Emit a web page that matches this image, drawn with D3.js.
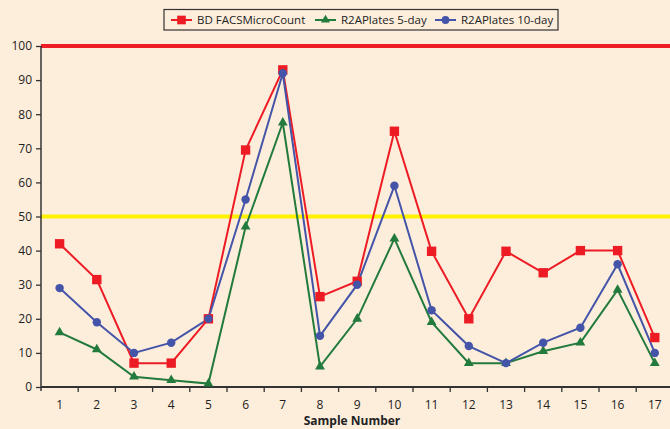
<!DOCTYPE html>
<html><head><meta charset="utf-8">
<script src="https://d3js.org/d3.v7.min.js"></script>
<style>html,body{margin:0;padding:0;background:#fdeedc;}svg{display:block;}</style>
</head><body>
<svg id="c" width="670" height="429"></svg>
<script>
const samples = ["1","2","3","4","5","6","7","8","9","10","11","12","13","14","15","16","17"];
const facs   = [42, 31.5, 7, 7, 20, 69.5, 93, 26.5, 31, 75, 39.8, 20, 39.8, 33.5, 40, 40, 14.5];
const day5   = [16, 11, 3, 2, 1, 47, 77.5, 6, 20, 43.5, 19, 7, 7, 10.5, 13, 28.5, 7];
const day10  = [29, 19, 10, 13, 20, 55, 92, 15, 30, 59, 22.5, 12, 7, 13, 17.4, 36, 10];
const yTicks = [0,10,20,30,40,50,60,70,80,90,100];
const refLines = [{v:100,color:"#ee1c25"},{v:50,color:"#fff200"}];
const seriesNames = ["BD FACSMicroCount","R2APlates 5-day","R2APlates 10-day"];
const colors = ["#ed1c24","#237a3d","#4454a8"];
const shapes = [d3.symbolSquare, d3.symbolTriangle, d3.symbolCircle];
const series = [facs, day5, day10];

const svg = d3.select("#c");
const font = "'Open Sans', 'Noto Sans', sans-serif";
const x = d3.scaleBand().domain(samples).range([41, 673.4]);
const y = d3.scaleLinear().domain([0,100]).range([387, 46]);

// reference lines
svg.selectAll(".ref").data(refLines).enter().append("line")
  .attr("x1", 41).attr("x2", 670).attr("y1", d=>y(d.v)).attr("y2", d=>y(d.v))
  .attr("stroke", d=>d.color).attr("stroke-width", 4);

// y axis
const ya = svg.append("g").attr("transform","translate(41,0)")
  .call(d3.axisLeft(y).tickValues(yTicks).tickSize(5).tickPadding(4));
ya.select(".domain").attr("d", `M0,${y(100)}V${y(0)+4}`).attr("stroke","#333").attr("stroke-width",1.5);
ya.selectAll(".tick line").attr("stroke","#333").attr("stroke-width",1.3);
ya.selectAll(".tick text").attr("font-family",font).attr("font-size",12).attr("fill","#222");

// x axis
const xa = svg.append("g").attr("transform",`translate(0,${y(0)})`)
  .call(d3.axisBottom(x).tickSize(0).tickPadding(13));
xa.select(".domain").attr("d","M41,0H670").attr("stroke","#333").attr("stroke-width",2);
xa.selectAll(".tick text").attr("font-family",font).attr("font-size",12).attr("fill","#222");
svg.append("g").selectAll("line").data(samples.slice(1)).enter().append("line")
  .attr("x1", d=>x(d)).attr("x2", d=>x(d)).attr("y1", y(0)).attr("y2", y(0)+5)
  .attr("stroke","#333").attr("stroke-width",1.3);

svg.append("text").attr("x",352).attr("y",425).attr("text-anchor","middle")
  .attr("font-family",font).attr("font-size",12).attr("font-weight","bold").attr("fill","#222")
  .text("Sample Number");

// series lines & markers
const line = d3.line().x((d,i)=>x(samples[i])+x.bandwidth()/2).y(d=>y(d));
const sizes = [88, 42, 56];
series.forEach((s,k)=>{
  svg.append("path").attr("d", line(s)).attr("fill","none").attr("stroke",colors[k]).attr("stroke-width",2);
});
series.forEach((s,k)=>{
  svg.append("g").selectAll("path").data(s).enter().append("path")
    .attr("d", d3.symbol().type(shapes[k]).size(sizes[k]))
    .attr("transform",(d,i)=>`translate(${x(samples[i])+x.bandwidth()/2},${y(d)})`)
    .attr("fill",colors[k]);
});

// legend
const lg = svg.append("g");
lg.append("rect").attr("x",164).attr("y",9.5).attr("width",394).attr("height",20.5)
  .attr("fill","#fdeedc").attr("stroke","#333").attr("stroke-width",1.2);
const lx = [171, 315, 435];
seriesNames.forEach((n,k)=>{
  lg.append("line").attr("x1",lx[k]).attr("x2",lx[k]+21).attr("y1",20).attr("y2",20)
    .attr("stroke",colors[k]).attr("stroke-width",2);
  lg.append("path").attr("d", d3.symbol().type(shapes[k]).size(sizes[k]*0.85))
    .attr("transform",`translate(${lx[k]+10.5},20)`).attr("fill",colors[k]);
  lg.append("text").attr("x",lx[k]+26).attr("y",24.2).attr("font-family",font)
    .attr("font-size",11.5).attr("fill","#222").text(n);
});
</script>
</body></html>
